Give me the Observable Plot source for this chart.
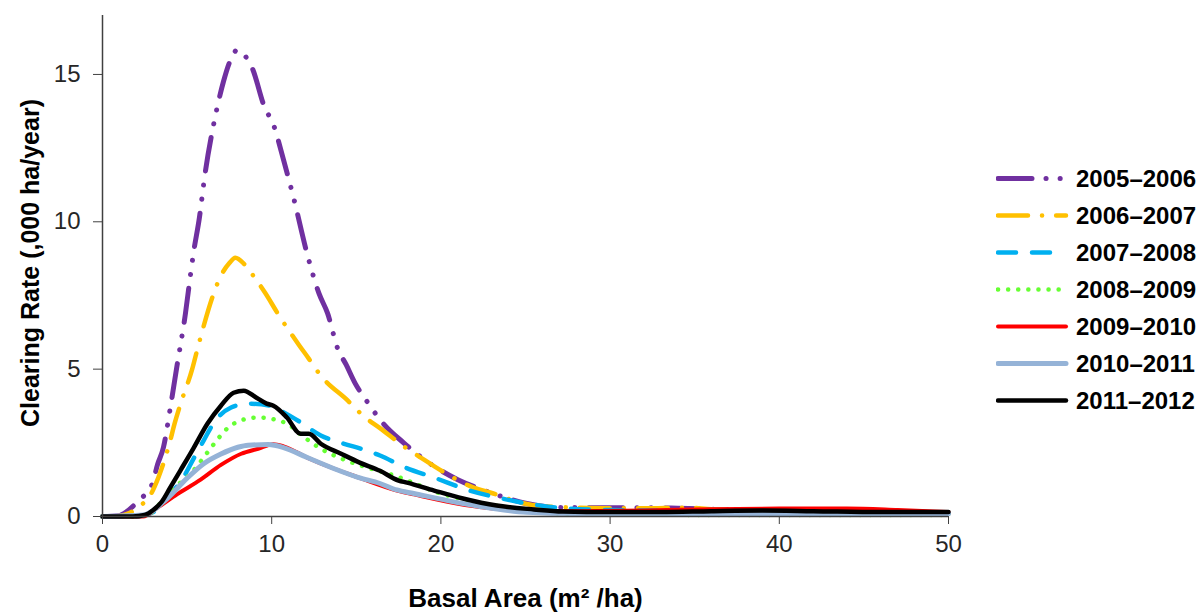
<!DOCTYPE html>
<html>
<head>
<meta charset="utf-8">
<script src="https://cdn.jsdelivr.net/npm/d3@7"></script>
<script src="https://cdn.jsdelivr.net/npm/@observablehq/plot@0.6"></script>
<style>
  body { margin: 0; background: #fff; font-family: "Liberation Sans", Arial, sans-serif; }
  #wrap { position: relative; width: 1200px; height: 612px; }
  #chart { position: absolute; left: 0; top: 0; }
  #legend { position: absolute; left: 996px; top: 160px; }
  .row { display: flex; align-items: center; height: 37px; }
  .row span { font-weight: bold; font-size: 24px; color: #000; margin-left: 6px; white-space: nowrap; }
</style>
</head>
<body>
<div id="wrap"><div id="chart"></div><div id="legend"></div></div>
<script>
// Series (basal area m²/ha, clearing rate ,000 ha/year)
const s2005_2006 = [[0,0],[1,0.03],[1.25,0.1],[2.13,0.54],[2.95,1.12],[3.25,1.76],[3.6,2.34],[4.0,3.66],[4.4,5.1],[4.9,6.88],[5.2,8.2],[5.38,8.95],[5.73,10.15],[6.03,11.5],[6.62,13.45],[7.15,14.76],[7.5,15.4],[7.97,15.83],[8.4,15.65],[8.86,15.2],[9.57,13.9],[10.1,13.3],[10.7,12.1],[11.3,10.8],[12.1,8.9],[12.8,7.56],[13.3,6.9],[13.9,5.7],[14.4,5.15],[14.95,4.5],[15.6,3.93],[16.6,3.15],[17.8,2.5],[18.7,2.07],[19.8,1.63],[21,1.25],[22.6,0.88],[23.8,0.64],[25,0.45],[26.9,0.31],[28.5,0.3],[30,0.3],[32,0.3],[34,0.28],[36,0.25],[38,0.22],[40,0.2],[42,0.17],[44,0.15],[46,0.12],[48,0.1],[50,0.1]];
const s2006_2007 = [[0,0],[1,0.02],[1.5,0.1],[2.2,0.35],[2.84,0.74],[3.3,1.32],[4.0,2.57],[4.26,3.15],[4.6,3.8],[5.3,5.0],[5.6,5.66],[5.9,6.3],[6.56,7.55],[7.0,8.17],[7.5,8.6],[7.85,8.78],[8.4,8.55],[9.0,8.1],[9.6,7.6],[10.4,6.85],[11.6,5.83],[12.2,5.35],[12.9,4.78],[14.5,3.93],[15.4,3.42],[16.4,3.0],[18.0,2.3],[19,1.93],[19.9,1.6],[21.9,0.99],[23.1,0.78],[24.7,0.47],[26,0.35],[28,0.3],[30,0.28],[32,0.28],[34.5,0.3],[36,0.25],[38,0.22],[40,0.2],[42,0.17],[44,0.15],[46,0.12],[48,0.1],[50,0.1]];
const s2007_2008 = [[0,0],[2,0],[3,0.15],[3.8,0.64],[4.7,1.25],[5.4,1.98],[6.0,2.6],[6.6,3.2],[7.6,3.7],[8.6,3.83],[9.9,3.76],[10.5,3.6],[11.7,3.2],[12.9,2.75],[14.1,2.5],[15.6,2.24],[16.4,2.07],[17.9,1.66],[19.6,1.32],[21.7,0.88],[23.7,0.6],[25.1,0.44],[27.5,0.27],[30,0.22],[33,0.2],[36,0.22],[40,0.22],[44,0.2],[47,0.15],[50,0.1]];
const s2008_2009 = [[0,0],[2,0],[2.8,0.1],[3.4,0.44],[4.6,1.15],[5.2,1.45],[6.2,2.17],[6.6,2.47],[7.4,3.0],[8.4,3.3],[9.2,3.36],[10.1,3.3],[10.9,3.15],[11.9,2.7],[12.9,2.3],[14.1,1.97],[15.6,1.67],[17.2,1.4],[20,0.78],[22,0.5],[24,0.3],[26,0.15],[28,0.08],[32,0.06],[40,0.05],[50,0.05]];
const s2009_2010 = [[0,0],[2.4,0],[3.25,0.3],[4.4,0.75],[5.8,1.25],[7.0,1.75],[8.2,2.13],[9.2,2.3],[10.1,2.45],[10.7,2.38],[12.1,2.0],[13.7,1.62],[15.1,1.33],[17.4,0.88],[18.4,0.75],[20.4,0.5],[22.3,0.32],[25,0.2],[28,0.18],[32,0.2],[36,0.25],[40,0.27],[44,0.27],[47,0.22],[50,0.15]];
const s2010_2011 = [[0,0],[2.4,0.05],[3.8,0.6],[5.0,1.3],[6.0,1.8],[7.0,2.12],[8.0,2.35],[8.6,2.42],[9.8,2.44],[10.7,2.34],[12.1,2.0],[13.7,1.62],[15.1,1.33],[16.4,1.12],[17.4,0.9],[18.4,0.78],[20.4,0.54],[22.3,0.34],[25.1,0.14],[28,0.1],[35,0.1],[42,0.1],[50,0.1]];
const s2011_2012 = [[0,0],[1.8,0],[2.5,0.05],[3.0,0.22],[3.5,0.5],[4.0,0.98],[4.6,1.56],[5.4,2.34],[6.2,3.15],[7.0,3.76],[7.75,4.2],[8.35,4.27],[9.1,4.03],[9.7,3.83],[10.1,3.76],[10.9,3.36],[11.7,2.81],[12.2,2.81],[12.9,2.47],[14.1,2.13],[15.2,1.83],[16.4,1.55],[17.5,1.22],[18,1.15],[19.6,0.88],[21.3,0.61],[23.3,0.37],[25.5,0.24],[27.2,0.17],[30,0.15],[33,0.15],[36,0.18],[39,0.2],[42,0.18],[46,0.15],[50,0.15]];

const seriesNames = ["2005–2006","2006–2007","2007–2008","2008–2009","2009–2010","2010–2011","2011–2012"];
const seriesData = [s2005_2006, s2006_2007, s2007_2008, s2008_2009, s2009_2010, s2010_2011, s2011_2012];
const seriesColors = ["#7030A0","#FFC000","#00B0F0","#66FF33","#FF0000","#95B3D7","#000000"];
const seriesDash = ["34,14,0.1,14,0.1,14","30,14,0.1,14","18,16","0.1,10",null,null,null];
const seriesWidth = [5,4.5,4.5,4.5,4,5,4.5];

const xTicks = [0,10,20,30,40,50];
const yTicks = [0,5,10,15];
const xTitle = "Basal Area (m² /ha)";
const yTitle = "Clearing Rate (,000 ha/year)";

const lineMarks = seriesData.map((d, i) => Plot.line(d, {
  x: p => p[0], y: p => p[1],
  stroke: seriesColors[i], strokeWidth: seriesWidth[i],
  strokeDasharray: seriesDash[i] || undefined,
  strokeLinecap: "round", strokeLinejoin: "round",
  curve: "monotone-x"
}));

const chart = Plot.plot({
  width: 990, height: 612,
  marginLeft: 102, marginRight: 42, marginTop: 15, marginBottom: 96,
  style: { fontFamily: "'Liberation Sans', Arial, sans-serif", fontSize: "24px", color: "#262626", background: "transparent", overflow: "visible" },
  x: { domain: [0, 50] },
  y: { domain: [0, 17] },
  marks: [
    ...lineMarks,
    Plot.ruleY([0], { stroke: "#404040", strokeWidth: 1.5 }),
    Plot.ruleX([0], { stroke: "#404040", strokeWidth: 1.5 }),
    Plot.axisX({ ticks: xTicks, tickSize: 8, tickPadding: 10, label: null, stroke: "#404040", fontSize: 24 }),
    Plot.axisY({ ticks: yTicks, tickSize: 9, tickPadding: 13, label: null, stroke: "#404040", fontSize: 24 }),
    Plot.text([xTitle], { frameAnchor: "bottom", lineAnchor: "middle", dy: 82, fontWeight: "bold", fontSize: 26, fill: "#000" }),
    Plot.text([yTitle], { frameAnchor: "left", lineAnchor: "middle", textAnchor: "middle", rotate: -90, dx: -72, dy: -3, fontWeight: "bold", fontSize: 25, fill: "#000" })
  ]
});
document.getElementById("chart").appendChild(chart);

// Legend
const legend = document.getElementById("legend");
seriesNames.forEach((name, i) => {
  const row = document.createElement("div");
  row.className = "row";
  const ns = "http://www.w3.org/2000/svg";
  const svg = document.createElementNS(ns, "svg");
  svg.setAttribute("width", 74); svg.setAttribute("height", 37);
  const ln = document.createElementNS(ns, "line");
  ln.setAttribute("x1", 2); ln.setAttribute("x2", 70);
  ln.setAttribute("y1", 18.5); ln.setAttribute("y2", 18.5);
  ln.setAttribute("stroke", seriesColors[i]);
  ln.setAttribute("stroke-width", seriesWidth[i]);
  ln.setAttribute("stroke-linecap", "round");
  if (seriesDash[i]) ln.setAttribute("stroke-dasharray", seriesDash[i]);
  svg.appendChild(ln);
  const span = document.createElement("span");
  span.textContent = name;
  row.appendChild(svg); row.appendChild(span);
  legend.appendChild(row);
});
</script>
</body>
</html>
